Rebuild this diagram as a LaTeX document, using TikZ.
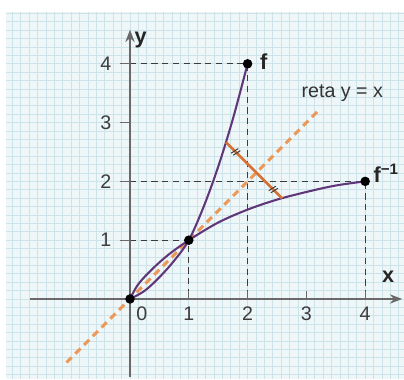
\documentclass[tikz,border=0pt]{standalone}
\usepackage{fontspec}
\setmainfont{Liberation Sans}
\usetikzlibrary{arrows.meta,decorations.markings}
\definecolor{gridbg}{RGB}{238,246,248}
\definecolor{gridln}{RGB}{204,227,234}
\definecolor{curvecol}{RGB}{95,55,120}
\definecolor{diagcol}{RGB}{236,152,88}
\definecolor{segcol}{RGB}{214,115,52}
\definecolor{axiscol}{RGB}{105,105,105}
\definecolor{helpcol}{RGB}{60,60,60}
\definecolor{txtcol}{RGB}{60,60,60}
\begin{document}
\begin{tikzpicture}[
  font=\fontsize{9.5}{11}\selectfont,
  axisline/.style={axiscol, line width=0.7pt, -{Stealth[length=6pt,width=4.5pt]}},
  helper/.style={helpcol, line width=0.5pt, dash pattern=on 3pt off 2.2pt},
  curvepath/.style={curvecol, line width=1pt},
  diag/.style={diagcol, line width=1.5pt, dash pattern=on 3.5pt off 2.5pt},
  seg/.style={segcol, line width=1.3pt},
  dot/.style={circle, fill=black, inner sep=0pt, minimum size=4.6pt},
  ticklabel/.style={text=txtcol},
  biglabel/.style={font=\fontsize{10.5}{12}\selectfont\bfseries, text=black!85},
  hatch/.style={black!75, line width=0.5pt},
]
\useasboundingbox (-2.211,-1.361) rectangle (4.660,5.085);
% graph paper
\fill[gridbg] (-2.109,-1.361) rectangle (4.660,4.881);
\draw[gridln, line width=0.35pt, step=0.142857] (-2.109,-1.361) grid (4.660,4.881);

% named points
\coordinate (Y1) at (0,1);
\coordinate (Y2) at (0,2);
\coordinate (Y4) at (0,4);
\coordinate (X1) at (1,0);
\coordinate (X2) at (2,0);
\coordinate (X4) at (4,0);
\coordinate (P11) at (1,1);
\coordinate (P24) at (2,4);
\coordinate (P42) at (4,2);

% helper dashed lines
\draw[helper] (Y4) -- (P24) -- (X2);
\draw[helper] (Y2) -- (P42) -- (X4);
\draw[helper] (Y1) -- (P11) -- (X1);

% axes
\coordinate (XL) at (-1.70,0);
\coordinate (XR) at (4.63,0);
\coordinate (YB) at (0,-1.33);
\coordinate (YT) at (0,4.58);
\draw[axisline] (XL) -- (XR);
\draw[axisline] (YB) -- (YT);
\foreach \v in {1,2,3,4} {
  \draw[axiscol, line width=0.6pt] (\v,0) -- (\v,0.14);
  \draw[axiscol, line width=0.6pt] (-0.17,\v) -- (0,\v);
  \node[ticklabel] (xl\v) at (\v,-0.255) {\v};
  \node[ticklabel] (yl\v) at (-0.41,\v) {\v};
}
\node[ticklabel] (xl0) at (0.20,-0.255) {0};
\node[biglabel] (xlab) at (4.39,0.37) {x};
\node[biglabel] (ylab) at (0.18,4.40) {y};

% line y = x
\coordinate (D1) at (-1.08,-1.08);
\coordinate (D2) at (3.20,3.20);
\draw[diag] (D1) -- (D2);
\node[anchor=base, text=black!80] (reta) at (3.61,3.435) {reta y = x};

% curves
\draw[curvepath] plot[smooth, tension=0.55] coordinates {(0,0) (0.25,0.14) (0.5,0.37) (0.75,0.65) (1,1) (1.25,1.5625) (1.5,2.25) (1.75,3.0625) (2,4)};
\draw[curvepath] plot[smooth, tension=0.55] coordinates {(0,0) (0.14,0.25) (0.37,0.5) (0.65,0.75) (1,1) (1.5,1.3) (2,1.52) (2.5,1.69) (3,1.82) (3.5,1.93) (4,2)};

% perpendicular segment with equal-length marks
\coordinate (A) at (1.633,2.667);
\coordinate (B) at (2.587,1.713);
\draw[seg, postaction={decorate}, decoration={markings,
  mark=at position 0.17 with {\draw[hatch] (-0.035,-0.07) -- (-0.005,0.07) (0.015,-0.07) -- (0.045,0.07);},
  mark=at position 0.84 with {\draw[hatch] (-0.035,-0.07) -- (-0.005,0.07) (0.015,-0.07) -- (0.045,0.07);}}]
  (A) -- (B);

% dots
\node[dot] (O) at (0,0) {};
\node[dot] (D11) at (P11) {};
\node[dot] (D24) at (P24) {};
\node[dot] (D42) at (P42) {};

% function labels
\node[biglabel, anchor=west] (flab) at (2.09,4.03) {f};
\node[biglabel, anchor=west, inner xsep=1pt] (finvlab) at (4.10,2.14) {f\textsuperscript{−1}};
\end{tikzpicture}
\end{document}
